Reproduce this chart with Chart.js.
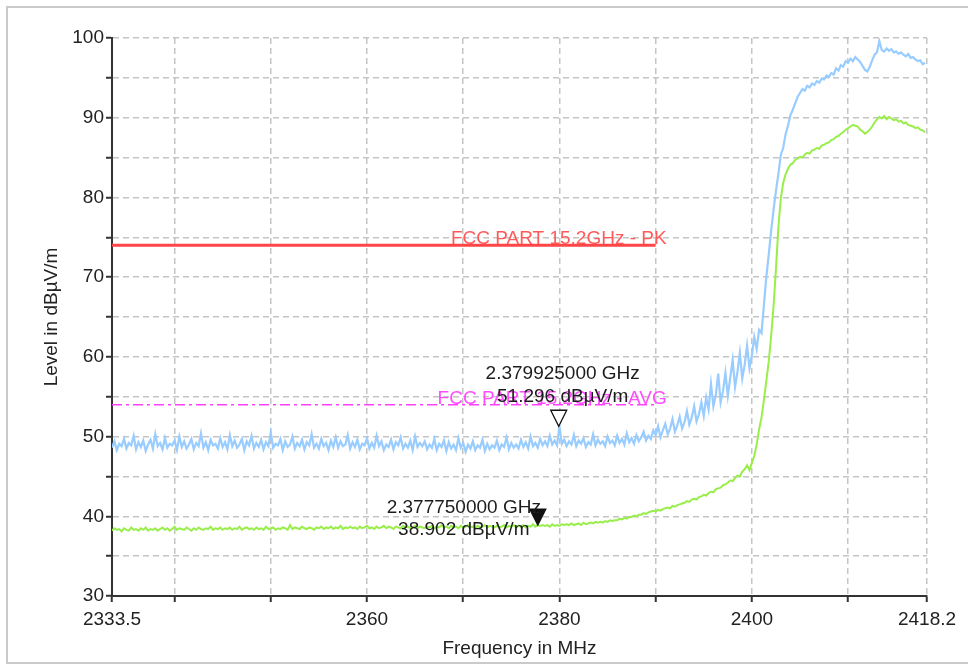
<!DOCTYPE html>
<html>
<head>
<meta charset="utf-8">
<script src="https://cdn.jsdelivr.net/npm/chart.js@4.4.1/dist/chart.umd.min.js"></script>
<style>
  html, body { margin: 0; padding: 0; background: #fff; }
  #wrap { position: relative; width: 968px; height: 664px; overflow: hidden; }
  #frame { position: absolute; left: 6px; top: 6px; width: 990px; height: 658px; border: 2px solid #cacaca; box-sizing: border-box; }
  canvas { position: absolute; left: 0; top: 0; }
</style>
</head>
<body>
<div id="wrap">
  <div id="frame"></div>
  <canvas id="grafico" width="968" height="664"></canvas>
</div>
<script>
// sweep: first frequency and step (MHz), one level per step
const freqStart = 2333.5;
const freqStep = 0.25;

// peak trace (dBµV/m)
const peakLevels = [
  48.6, 49.4, 48.3, 49.1, 48.8, 49.7, 48.5, 49.2, 48.9, 50.1,
  48.4, 49.3, 48.7, 49.5, 48.2, 49.0, 49.6, 48.5, 50.3, 48.8,
  49.2, 48.4, 49.8, 48.6, 49.1, 48.9, 49.5, 48.3, 50.0, 48.7,
  49.4, 48.5, 49.0, 49.7, 48.4, 49.2, 48.8, 50.4, 48.6, 49.3,
  48.3, 49.6, 48.9, 49.1, 48.5, 49.8, 48.7, 49.3, 48.4, 50.2,
  48.8, 49.5, 48.6, 49.0, 49.7, 48.3, 49.4, 48.9, 50.1, 48.5,
  49.2, 48.7, 49.6, 48.4, 49.3, 48.8, 50.5, 48.6, 49.1, 48.9,
  49.7, 48.3, 49.4, 48.7, 49.0, 50.0, 48.5, 49.2, 48.8, 49.6,
  48.4, 49.3, 48.9, 50.3, 48.6, 49.1, 48.5, 49.7, 48.8, 49.2,
  48.3, 49.5, 48.7, 49.9, 48.6, 49.4, 48.8, 49.0, 50.2, 48.5,
  49.3, 48.7, 49.6, 48.4, 49.1, 48.9, 49.8, 48.5, 49.2, 48.6,
  50.1, 48.8, 49.4, 48.3, 49.0, 48.7, 49.6, 48.4, 49.3, 48.9,
  49.9, 48.5, 49.1, 48.6, 49.5, 48.3, 50.0, 48.7, 49.2, 48.8,
  49.4, 48.4, 49.0, 48.6, 49.7, 48.3, 49.1, 48.7, 49.5, 48.2,
  49.3, 48.5, 49.0, 48.3, 49.8, 48.6, 49.2, 48.1, 49.0, 48.5,
  49.4, 48.3, 48.9, 48.6, 49.6, 48.2, 49.1, 48.4, 48.9, 48.6,
  49.5, 48.3, 49.0, 48.7, 49.9, 48.4, 49.2, 48.6, 49.0, 48.5,
  49.6, 48.7, 49.3, 48.5, 50.0, 48.8, 49.2, 48.6, 49.7, 48.9,
  49.4, 48.8, 50.1, 49.0, 49.5, 48.9, 51.3, 49.1, 49.6, 48.8,
  49.4, 49.0, 50.2, 48.8, 49.5, 49.1, 49.8, 48.7, 49.3, 49.0,
  50.3, 48.9, 49.6, 49.1, 49.4, 48.8, 50.0, 49.2, 49.5, 48.9,
  50.1, 49.2, 49.7, 49.0, 50.4, 49.3, 49.8, 49.1, 50.2, 49.4,
  49.9, 50.6, 49.5, 50.1, 49.7, 50.8,
  50.2, 51.3, 49.9, 50.8, 51.6, 50.3, 51.0, 52.2, 50.6, 51.4,
  52.5, 51.0, 51.8, 53.2, 51.5, 52.4, 53.8, 51.9, 52.8, 54.3,
  52.6, 54.9, 53.4, 56.6, 53.8, 55.2, 57.9, 54.3, 55.7, 58.0,
  55.1, 57.4, 59.6, 56.2, 58.1, 60.5, 57.3, 59.0, 61.4, 58.6,
  60.2, 62.5, 61.0, 63.4, 63.0, 66.5, 70.0, 72.8, 75.8, 78.4,
  80.8, 82.9, 85.3, 86.2, 87.9, 89.0, 90.3, 91.0, 91.8, 92.6,
  93.1, 93.6, 93.4, 94.0, 93.8, 94.3, 94.1, 94.6, 94.4, 94.9,
  94.8, 95.3, 95.1, 95.6, 95.4, 96.2, 95.9, 96.6, 96.4, 97.1,
  96.9, 97.4, 97.1, 97.6, 97.3, 97.0, 96.5, 96.0, 95.8, 96.4,
  97.2, 97.9, 98.2, 99.6, 98.5, 98.3, 98.7, 98.4, 98.6, 98.2,
  98.3, 98.0, 98.2, 97.9, 97.7, 98.0, 97.5, 97.6, 97.3, 97.1,
  97.2, 96.7, 96.9
];

// average trace (dBµV/m)
const avgLevels = [
  38.2, 38.5, 38.3, 38.4, 38.1, 38.5, 38.3, 38.2, 38.6, 38.3,
  38.4, 38.2, 38.5, 38.3, 38.6, 38.2, 38.4, 38.3, 38.5, 38.2,
  38.4, 38.6, 38.3, 38.5, 38.2, 38.4, 38.7, 38.3, 38.5, 38.4,
  38.3, 38.6, 38.4, 38.2, 38.5, 38.3, 38.6, 38.4, 38.3, 38.5,
  38.4, 38.7, 38.3, 38.5, 38.4, 38.6, 38.3, 38.5, 38.4, 38.6,
  38.3, 38.5, 38.4, 38.7, 38.3, 38.5, 38.6, 38.4, 38.5, 38.3,
  38.6, 38.4, 38.5, 38.3, 38.7, 38.4, 38.5, 38.6, 38.3, 38.5,
  38.4, 38.6, 38.5, 38.3, 38.9, 38.4, 38.6, 38.5, 38.4, 38.7,
  38.5, 38.4, 38.6, 38.5, 38.3, 38.6, 38.5, 38.7, 38.4, 38.6,
  38.5, 38.7, 38.4, 38.6, 38.5, 38.8, 38.4, 38.6, 38.5, 38.7,
  38.5, 38.6, 38.4, 38.7, 38.5, 38.6, 38.8, 38.5, 38.6, 38.4,
  38.7, 38.5, 38.6, 38.8, 38.5, 38.7, 38.6, 38.4, 38.7, 38.6,
  38.5, 38.8, 38.6, 38.7, 38.5, 38.6, 38.8, 38.5, 38.7, 38.6,
  38.5, 38.7, 38.6, 38.8, 38.5, 38.7, 38.6, 38.9, 38.6, 38.7,
  38.5, 38.8, 38.6, 38.7, 38.5, 38.8, 38.6, 38.7, 38.9, 38.6,
  38.7, 38.5, 38.8, 38.6, 38.7, 38.9, 38.6, 38.8, 38.7, 38.6,
  38.8, 38.6, 38.7, 38.9, 38.6, 38.8, 38.7, 38.9, 38.6, 38.8,
  38.7, 38.9, 38.6, 38.8, 38.7, 39.0, 38.7, 38.9, 38.8, 38.9,
  38.8, 38.9, 38.7, 39.0, 38.8, 38.9, 38.8, 39.0, 38.9, 39.0,
  38.9, 39.1, 38.9, 39.0, 39.1, 38.9, 39.2, 39.0, 39.1, 39.2,
  39.1, 39.3, 39.2, 39.3, 39.2, 39.4, 39.3, 39.5, 39.4, 39.5,
  39.5, 39.7, 39.6, 39.8, 39.7, 39.9, 39.9, 40.1, 40.0, 40.2,
  40.2, 40.4, 40.3, 40.5, 40.6, 40.7,
  40.6, 40.8, 40.7, 40.9, 41.0, 41.1, 41.0, 41.3, 41.2, 41.4,
  41.5, 41.6, 41.7, 41.9, 41.8, 42.1, 42.2, 42.1, 42.4, 42.5,
  42.7, 42.6, 42.9, 43.1, 43.0, 43.4, 43.5, 43.6, 43.9, 44.0,
  44.2, 44.5, 44.4, 44.8, 45.1, 45.0, 45.6, 45.9, 46.4, 45.8,
  46.7, 47.6, 49.0, 50.9, 52.4, 54.6, 57.0, 59.4, 62.6, 66.3,
  71.0, 76.2, 79.8, 81.8, 82.9, 83.6, 84.1, 84.3, 84.7, 84.9,
  85.1, 85.0, 85.4, 85.6, 85.5, 85.9, 86.0, 86.2, 86.1, 86.5,
  86.6, 86.8, 86.9, 87.2, 87.3, 87.6, 87.7, 88.0, 88.2, 88.5,
  88.7, 88.9, 89.1, 89.0, 88.9, 88.5, 88.3, 88.0, 88.2, 88.5,
  88.9, 89.4, 89.8, 90.1, 89.9, 90.2, 89.8, 90.1, 89.9, 89.7,
  89.8, 89.5, 89.6, 89.3, 89.4, 89.1, 89.0, 88.9, 88.7, 88.8,
  88.5, 88.4, 88.2
];

// axes
const xMin = 2333.5;
const xMax = 2418.2;
const xTickValues = [2333.5, 2340, 2350, 2360, 2370, 2380, 2390, 2400, 2410, 2418.2];
const xTickLabels = [2333.5, 2360, 2380, 2400, 2418.2];
const yTickLabels = [30, 40, 50, 60, 70, 80, 90, 100];

// limit lines
const limitNames = ['FCC PART 15.2GHz - PK', 'FCC PART 15.2GHz - AVG'];
const limitLevels = [74, 54];
const limitFrom = [2333.5, 2333.5];
const limitTo = [2390, 2390];

// markers
const markerFreqs = [2379.925, 2377.75];
const markerLevels = [51.296, 38.902];
const markerFilled = [false, true];

const FONTE = '"Liberation Sans", Arial, sans-serif';

function pontos(levels) {
    return levels.map((v, i) => ({ x: freqStart + i * freqStep, y: v }));
}

function linhaLimite(i) {
    return [{ x: limitFrom[i], y: limitLevels[i] }, { x: limitTo[i], y: limitLevels[i] }];
}

// limit line captions and marker triangles, placed through the scales
const marcadores = {
    id: 'marcadores',
    afterDatasetsDraw(chart) {
        const { ctx, scales: { x, y } } = chart;
        ctx.save();
        ctx.font = '19px ' + FONTE;

        const corTexto = ['#ff5a5a', '#ff4cff'];
        limitNames.forEach((nome, i) => {
            const px = x.getPixelForValue(limitTo[i]);
            const py = y.getPixelForValue(limitLevels[i]);
            ctx.fillStyle = corTexto[i];
            ctx.textAlign = 'right';
            ctx.textBaseline = 'alphabetic';
            ctx.fillText(nome, px + 11, py - 1);
        });

        // label offsets per marker: [dx, dy line 1, dy line 2]
        const desloc = [[4, -52, -29], [-74, -17, 5]];
        markerFreqs.forEach((f, i) => {
            const px = x.getPixelForValue(f);
            const py = y.getPixelForValue(markerLevels[i]);
            ctx.beginPath();
            ctx.moveTo(px - 8, py - 16);
            ctx.lineTo(px + 8, py - 16);
            ctx.lineTo(px, py);
            ctx.closePath();
            ctx.lineWidth = 1.3;
            ctx.strokeStyle = '#111';
            ctx.fillStyle = markerFilled[i] ? '#111' : '#fff';
            ctx.fill();
            ctx.stroke();

            ctx.fillStyle = '#1c1c1c';
            ctx.textAlign = 'center';
            ctx.textBaseline = 'middle';
            const d = desloc[i];
            ctx.fillText((f / 1000).toFixed(9) + ' GHz', px + d[0], py + d[1]);
            ctx.fillText(markerLevels[i].toFixed(3) + ' dBµV/m', px + d[0], py + d[2]);
        });
        ctx.restore();
    }
};

const ctx = document.getElementById('grafico').getContext('2d');

const grafico = new Chart(ctx, {
    type: 'line',
    data: {
        datasets: [
            {
                label: limitNames[0],
                data: linhaLimite(0),
                borderColor: '#ff4545',
                borderWidth: 3
            },
            {
                label: limitNames[1],
                data: linhaLimite(1),
                borderColor: '#ff40ff',
                borderWidth: 1.5,
                borderDash: [10, 4, 3, 4]
            },
            {
                label: 'Peak',
                data: pontos(peakLevels),
                borderColor: '#99ccff',
                borderWidth: 2.2
            },
            {
                label: 'Average',
                data: pontos(avgLevels),
                borderColor: '#99ee4c',
                borderWidth: 2
            }
        ]
    },
    options: {
        responsive: false,
        animation: false,
        events: [],
        parsing: false,
        elements: {
            point: { radius: 0 },
            line: { tension: 0, fill: false }
        },
        layout: { padding: { top: 38, right: 41, left: 0, bottom: 0 } },
        plugins: {
            legend: { display: false },
            tooltip: { enabled: false }
        },
        scales: {
            x: {
                type: 'linear',
                min: xMin,
                max: xMax,
                afterBuildTicks: (scale) => {
                    scale.ticks = xTickValues.map(v => ({ value: v }));
                },
                afterFit: (scale) => {
                    scale.height = 68;
                    scale.paddingLeft = 0;
                    scale.paddingRight = 0;
                },
                ticks: {
                    autoSkip: false,
                    maxRotation: 0,
                    padding: 6,
                    color: '#222',
                    font: { family: FONTE, size: 19 },
                    callback: (v) => xTickLabels.includes(v) ? String(v) : ''
                },
                grid: {
                    color: '#c4c4c4',
                    lineWidth: 1.5,
                    tickColor: '#333',
                    tickWidth: 2,
                    tickLength: 6
                },
                border: { color: '#333', width: 2, dash: [6, 4] },
                title: {
                    display: true,
                    text: 'Frequency in MHz',
                    color: '#222',
                    font: { family: FONTE, size: 19 },
                    padding: { top: 0, bottom: 4 }
                }
            },
            y: {
                type: 'linear',
                min: 30,
                max: 100,
                afterFit: (scale) => {
                    scale.width = 112;
                    scale.paddingTop = 0;
                    scale.paddingBottom = 0;
                },
                ticks: {
                    stepSize: 5,
                    padding: 2,
                    color: '#222',
                    font: { family: FONTE, size: 19 },
                    callback: (v) => yTickLabels.includes(v) ? String(v) : ''
                },
                grid: {
                    color: '#c4c4c4',
                    lineWidth: 1.5,
                    tickColor: '#333',
                    tickWidth: 2,
                    tickLength: 6
                },
                border: { color: '#333', width: 2, dash: [6, 4] },
                title: {
                    display: true,
                    text: 'Level in dBµV/m',
                    color: '#222',
                    font: { family: FONTE, size: 19 },
                    padding: { top: 40, bottom: 0 }
                }
            }
        }
    },
    plugins: [marcadores]
});
</script>
</body>
</html>
